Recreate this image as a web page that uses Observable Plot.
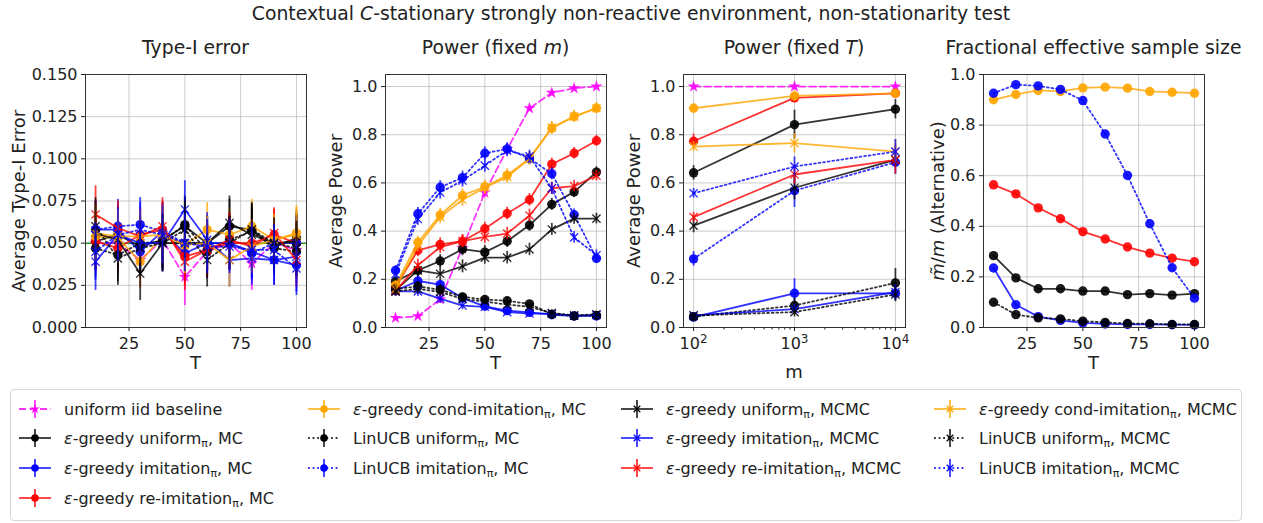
<!DOCTYPE html>
<html><head><meta charset="utf-8">
<script src="https://cdn.jsdelivr.net/npm/d3@7"></script>
<script src="https://cdn.jsdelivr.net/npm/@observablehq/plot@0.6"></script>
<style>
body{margin:0;background:#fff;font-family:"DejaVu Sans",sans-serif;color:#222;}
#root{position:relative;width:1263px;height:523px;overflow:hidden;background:#fff;}
.abs{position:absolute;white-space:nowrap;}
.ctr{transform:translate(-50%,-50%);}
.vlab{transform:translate(-50%,-50%) rotate(-90deg);}
sub{font-size:11px;vertical-align:-3px;line-height:0;}
.leg{position:absolute;left:10px;top:389px;width:1232px;height:132px;border:1px solid #d6d6d6;border-radius:4px;box-sizing:border-box;}
.item{position:absolute;display:flex;align-items:center;height:24px;font-size:16px;}
</style></head><body><div id="root"></div>
<script>
// ---------------- data ----------------
const T = [10,20,30,40,50,60,70,80,90,100];
const M = [100,1000,10000];
const alphaLevel = 0.05;

const seriesLabels = [
  "uniform iid baseline",
  "ε-greedy uniform_π, MC",
  "ε-greedy imitation_π, MC",
  "ε-greedy re-imitation_π, MC",
  "ε-greedy cond-imitation_π, MC",
  "LinUCB uniform_π, MC",
  "LinUCB imitation_π, MC",
  "ε-greedy uniform_π, MCMC",
  "ε-greedy imitation_π, MCMC",
  "ε-greedy re-imitation_π, MCMC",
  "ε-greedy cond-imitation_π, MCMC",
  "LinUCB uniform_π, MCMC",
  "LinUCB imitation_π, MCMC"
];

// Panel 1: Type-I error vs T
const typeI_base     = [0.050,0.050,0.040,0.052,0.030,0.045,0.050,0.038,0.050,0.046];
const typeI_egU_MC   = [0.051,0.055,0.048,0.052,0.060,0.050,0.060,0.058,0.048,0.053];
const typeI_egI_MC   = [0.058,0.058,0.045,0.057,0.044,0.050,0.050,0.045,0.040,0.037];
const typeI_egR_MC   = [0.051,0.047,0.055,0.058,0.042,0.046,0.050,0.050,0.055,0.050];
const typeI_egC_MC   = [0.054,0.053,0.039,0.054,0.049,0.058,0.055,0.060,0.052,0.056];
const typeI_linU_MC  = [0.047,0.043,0.050,0.051,0.061,0.045,0.052,0.057,0.047,0.045];
const typeI_linI_MC  = [0.058,0.060,0.061,0.057,0.050,0.050,0.050,0.044,0.050,0.050];
const typeI_egU_MCMC = [0.056,0.052,0.032,0.050,0.050,0.050,0.062,0.055,0.050,0.051];
const typeI_egI_MCMC = [0.039,0.055,0.050,0.050,0.070,0.052,0.040,0.041,0.040,0.042];
const typeI_egR_MCMC = [0.067,0.059,0.054,0.060,0.039,0.046,0.052,0.048,0.056,0.040];
const typeI_egC_MCMC = [0.056,0.054,0.054,0.055,0.049,0.050,0.040,0.048,0.052,0.055];
const typeI_linU_MCMC= [0.060,0.041,0.047,0.050,0.058,0.040,0.050,0.058,0.050,0.047];
const typeI_linI_MCMC= [0.045,0.055,0.058,0.055,0.050,0.048,0.048,0.046,0.046,0.035];
const typeI_err      = [0.017,0.016,0.016,0.017,0.017,0.016,0.016,0.016,0.015,0.016];

// Panel 2: power vs T (fixed m)
const powT_base      = [0.040,0.047,0.117,0.330,0.560,0.740,0.910,0.974,0.993,1.000];
const powT_egU_MC    = [0.192,0.237,0.276,0.325,0.313,0.358,0.425,0.511,0.563,0.645];
const powT_egI_MC    = [0.153,0.193,0.178,0.122,0.088,0.070,0.063,0.053,0.048,0.048];
const powT_egR_MC    = [0.168,0.320,0.345,0.358,0.410,0.473,0.530,0.678,0.723,0.775];
const powT_egC_MC    = [0.175,0.354,0.467,0.548,0.584,0.632,0.702,0.827,0.876,0.910];
const powT_linU_MC   = [0.160,0.170,0.157,0.127,0.116,0.111,0.098,0.055,0.048,0.050];
const powT_linI_MC   = [0.237,0.472,0.582,0.622,0.723,0.741,0.702,0.638,0.468,0.287];
const powT_egU_MCMC  = [0.155,0.237,0.223,0.254,0.290,0.290,0.324,0.407,0.452,0.452];
const powT_egI_MCMC  = [0.150,0.150,0.120,0.091,0.086,0.064,0.058,0.058,0.049,0.052];
const powT_egR_MCMC  = [0.152,0.258,0.334,0.358,0.376,0.390,0.465,0.578,0.587,0.630];
const powT_egC_MCMC  = [0.160,0.340,0.458,0.530,0.580,0.625,0.700,0.830,0.875,0.910];
const powT_linU_MCMC = [0.150,0.160,0.148,0.118,0.108,0.095,0.086,0.060,0.050,0.055];
const powT_linI_MCMC = [0.222,0.450,0.560,0.610,0.672,0.735,0.710,0.577,0.374,0.300];
const powT_err_base  = [0.008,0.009,0.013,0.020,0.022,0.020,0.013,0.007,0.004,0.001];
const powT_err_hi    = [0.020,0.026,0.027,0.027,0.027,0.026,0.026,0.025,0.024,0.022];
const powT_err_lo    = [0.020,0.021,0.020,0.017,0.015,0.014,0.013,0.012,0.012,0.012];

// Panel 3: power vs m (fixed T)
const powM_base      = [1.000,1.000,1.000];
const powM_egU_MC    = [0.642,0.842,0.906];
const powM_egI_MC    = [0.043,0.142,0.142];
const powM_egR_MC    = [0.773,0.953,0.972];
const powM_egC_MC    = [0.910,0.961,0.972];
const powM_linU_MC   = [0.045,0.091,0.185];
const powM_linI_MC   = [0.285,0.568,0.686];
const powM_egU_MCMC  = [0.423,0.580,0.696];
const powM_egI_MCMC  = [0.050,0.076,0.147];
const powM_egR_MCMC  = [0.458,0.635,0.696];
const powM_egC_MCMC  = [0.751,0.765,0.730];
const powM_linU_MCMC = [0.050,0.064,0.137];
const powM_linI_MCMC = [0.557,0.668,0.730];
const powM_err = [
  [0.002,0.002,0.002],[0.030,0.060,0.040],[0.012,0.060,0.030],[0.030,0.020,0.012],
  [0.020,0.020,0.012],[0.012,0.030,0.060],[0.030,0.070,0.050],[0.030,0.050,0.030],
  [0.012,0.020,0.030],[0.020,0.040,0.060],[0.020,0.040,0.050],[0.012,0.020,0.030],[0.020,0.040,0.050]
];

// Panel 4: fractional effective sample size (MC only)
const ess_egU_MC  = [0.284,0.196,0.153,0.153,0.144,0.144,0.130,0.134,0.128,0.134];
const ess_egI_MC  = [0.235,0.090,0.043,0.028,0.018,0.014,0.012,0.012,0.011,0.010];
const ess_egR_MC  = [0.564,0.528,0.473,0.430,0.379,0.350,0.318,0.294,0.274,0.260];
const ess_egC_MC  = [0.900,0.921,0.937,0.933,0.947,0.950,0.946,0.933,0.930,0.926];
const ess_linU_MC = [0.100,0.051,0.038,0.034,0.025,0.020,0.016,0.015,0.012,0.012];
const ess_linI_MC = [0.926,0.960,0.955,0.941,0.897,0.765,0.601,0.410,0.236,0.116];

const yTicks1 = [0,0.025,0.05,0.075,0.1,0.125,0.15];
const yTicksP = [0,0.2,0.4,0.6,0.8,1.0];
const xTicksT = [25,50,75,100];
const xTicksM = [100,1000,10000];
const xMinorM = [200,300,400,500,600,700,800,900,2000,3000,4000,5000,6000,7000,8000,9000];

// ---------------- styles ----------------
const MAG="#ff00ff", BLK="#000000", BLU="#0000ff", RED="#ff0000", ORG="#ffa500";
const sColor = [MAG,BLK,BLU,RED,ORG,BLK,BLU,BLK,BLU,RED,ORG,BLK,BLU];
const sDash  = ["7,3.5",null,null,null,null,"1.8,2.8","1.8,2.8",null,null,null,null,"1.8,2.8","1.8,2.8"];
const sSym   = ["star","circle","circle","circle","circle","circle","circle","times","times","times","times","times","times"];

const typeI = [typeI_base,typeI_egU_MC,typeI_egI_MC,typeI_egR_MC,typeI_egC_MC,typeI_linU_MC,typeI_linI_MC,
  typeI_egU_MCMC,typeI_egI_MCMC,typeI_egR_MCMC,typeI_egC_MCMC,typeI_linU_MCMC,typeI_linI_MCMC];
const powT = [powT_base,powT_egU_MC,powT_egI_MC,powT_egR_MC,powT_egC_MC,powT_linU_MC,powT_linI_MC,
  powT_egU_MCMC,powT_egI_MCMC,powT_egR_MCMC,powT_egC_MCMC,powT_linU_MCMC,powT_linI_MCMC];
const powTErr = [powT_err_base,powT_err_hi,powT_err_lo,powT_err_hi,powT_err_hi,powT_err_lo,powT_err_hi,
  powT_err_hi,powT_err_lo,powT_err_hi,powT_err_hi,powT_err_lo,powT_err_hi];
const powM = [powM_base,powM_egU_MC,powM_egI_MC,powM_egR_MC,powM_egC_MC,powM_linU_MC,powM_linI_MC,
  powM_egU_MCMC,powM_egI_MCMC,powM_egR_MCMC,powM_egC_MCMC,powM_linU_MCMC,powM_linI_MCMC];
const ess = [null,ess_egU_MC,ess_egI_MC,ess_egR_MC,ess_egC_MC,ess_linU_MC,ess_linI_MC];

const root = document.getElementById("root");
function addDiv(html, cls, left, top, size, extra) {
  const d = document.createElement("div");
  d.className = "abs " + cls;
  d.style.left = left + "px"; d.style.top = top + "px"; d.style.fontSize = size + "px";
  if (extra) Object.assign(d.style, extra);
  d.innerHTML = html; root.appendChild(d); return d;
}
function fmtLabel(s) {
  return s.replace("ε", "<i>ε</i>").replace("_π", "<sub>π</sub>");
}

function seriesMarks(rows, i) {
  const c = sColor[i];
  const out = [];
  out.push(Plot.line(rows, {x:"x", y:"y", stroke:c, strokeWidth:1.8, strokeOpacity:0.8,
    strokeDasharray: sDash[i] || undefined}));
  out.push(Plot.ruleX(rows, {x:"x", y1: d => d.y - d.e, y2: d => d.y + d.e, stroke:c, strokeWidth:1.8, strokeOpacity:0.75}));
  if (sSym[i] === "times")
    out.push(Plot.dot(rows, {x:"x", y:"y", symbol:"times", stroke:c, strokeWidth:1.3, r:3.8, strokeOpacity:0.85}));
  else
    out.push(Plot.dot(rows, {x:"x", y:"y", symbol:sSym[i], fill:c, r: sSym[i]==="star" ? 3.8 : 4.7, fillOpacity:0.9}));
  return out;
}

function panel(opt) {
  const marks = [
    Plot.gridX({ticks: opt.xTicks, stroke:"#b0b0b0", strokeOpacity:0.65, strokeWidth:1}),
    Plot.gridY({ticks: opt.yTicks, stroke:"#b0b0b0", strokeOpacity:0.65, strokeWidth:1})
  ];
  if (opt.ref != null) marks.push(Plot.ruleY([opt.ref], {stroke:"green", strokeWidth:1.5, strokeOpacity:0.8}));
  opt.series.forEach((vals, i) => {
    if (!vals) return;
    const rows = vals.map((v, j) => ({x: opt.xs[j], y: v, e: opt.err ? opt.err(i, j) : 0}));
    marks.push(...seriesMarks(rows, i));
  });
  marks.push(Plot.frame({stroke:"#333", strokeWidth:1}));
  marks.push(Plot.axisX({ticks: opt.xTicks, tickFormat: opt.xFmt, tickSize:4, tickPadding:6, label:null, fontSize:16}));
  if (opt.xMinor) marks.push(Plot.axisX({ticks: opt.xMinor, tickFormat: () => "", tickSize:2.5, label:null}));
  marks.push(Plot.axisY({ticks: opt.yTicks, tickFormat: opt.yFmt, tickSize:4, tickPadding:4, label:null, fontSize:16}));
  const svg = Plot.plot({
    width: opt.w + 80, height: 303,
    marginLeft: 70, marginRight: 10, marginTop: 10, marginBottom: 40,
    x: opt.xScale, y: {domain: opt.yDomain},
    style: {fontFamily: "DejaVu Sans", fontSize: "16px", color: "#222", background: "transparent", overflow: "visible"},
    marks
  });
  svg.style.position = "absolute";
  svg.style.left = (opt.left - 70) + "px";
  svg.style.top = "64px";
  root.appendChild(svg);
  return svg;
}

const fmt1 = d3.format(".1f");
const supMark = "^";
panel({left:85, w:221, xs:T, xScale:{type:"linear", domain:[5.5,104.5]}, xTicks:xTicksT, xFmt: d3.format("d"),
  yDomain:[0,0.15], yTicks:yTicks1, yFmt:d3.format(".3f"), series:typeI, ref: alphaLevel,
  err:(i,j)=>typeI_err[j]});
panel({left:385, w:221, xs:T, xScale:{type:"linear", domain:[5.5,104.5]}, xTicks:xTicksT, xFmt: d3.format("d"),
  yDomain:[0,1.05], yTicks:yTicksP, yFmt:fmt1, series:powT, err:(i,j)=>powTErr[i][j]});
const svg3 = panel({left:683, w:222, xs:M, xScale:{type:"log", domain:[Math.pow(10,1.9), Math.pow(10,4.1)]}, xTicks:xTicksM,
  xFmt: d => "10" + supMark + Math.round(Math.log10(d)), xMinor:xMinorM,
  yDomain:[0,1.05], yTicks:yTicksP, yFmt:fmt1, series:powM, err:(i,j)=>powM_err[i][j]});
// render exponent tick labels as real superscripts
d3.select(svg3).selectAll("text").each(function() {
  const t = this.textContent;
  if (t.includes(supMark)) {
    const [b, e] = t.split(supMark);
    const s = d3.select(this); s.text(null);
    s.append("tspan").text(b);
    s.append("tspan").attr("dy", "-0.45em").attr("font-size", "12px").text(e);
  }
});
panel({left:983, w:221, xs:T, xScale:{type:"linear", domain:[5.5,104.5]}, xTicks:xTicksT, xFmt: d3.format("d"),
  yDomain:[0,1.0], yTicks:yTicksP, yFmt:fmt1, series:ess, err:null});

// ---------------- text ----------------
addDiv("Contextual <i>C</i>-stationary strongly non-reactive environment, non-stationarity test", "ctr", 631, 13, 18.8);
const titles = ["Type-I error", "Power (fixed <i>m</i>)", "Power (fixed <i>T</i>)", "Fractional effective sample size"];
const centers = [195.5, 495.5, 794, 1093.5];
titles.forEach((t, k) => addDiv(t, "ctr", centers[k], 47, 18.8));
const ylabs = ["Average Type-I Error", "Average Power", "Average Power", "<i>m̃</i>/<i>m</i> (Alternative)"];
const ylx = [18, 335, 633, 937];
ylabs.forEach((t, k) => addDiv(t, "vlab", ylx[k], 201, 18));
const xlabs = ["T", "T", "m", "T"];
const xly = [362, 362, 371, 362];
xlabs.forEach((t, k) => addDiv(t, "ctr", centers[k], xly[k], 18));

// ---------------- legend ----------------
const leg = document.createElement("div"); leg.className = "leg"; root.appendChild(leg);
const cols = [[0,1,2,3],[4,5,6],[7,8,9],[10,11,12]];
const colHandleX = [7, 296, 609, 922];
const rowY = [408, 437, 467, 497];
cols.forEach((col, ci) => col.forEach((si, ri) => {
  const it = document.createElement("div"); it.className = "item";
  it.style.left = colHandleX[ci] + "px"; it.style.top = (rowY[ri] - 389 - 12) + "px";
  const svg = d3.create("svg").attr("width", 34).attr("height", 24).style("overflow","visible");
  svg.append("line").attr("x1",1).attr("x2",33).attr("y1",12).attr("y2",12)
    .attr("stroke", sColor[si]).attr("stroke-width",1.8).attr("stroke-opacity",0.8)
    .attr("stroke-dasharray", sDash[si] || null);
  svg.append("line").attr("x1",17).attr("x2",17).attr("y1",3).attr("y2",21)
    .attr("stroke", sColor[si]).attr("stroke-width",1.8).attr("stroke-opacity",0.8);
  const sym = sSym[si] === "star" ? d3.symbolStar : sSym[si] === "times" ? d3.symbolTimes : d3.symbolCircle;
  const p = svg.append("path").attr("transform","translate(17,12)")
    .attr("d", d3.symbol(sym, sSym[si]==="times" ? 30 : sSym[si]==="star" ? 30 : 45)());
  if (sSym[si] === "times") p.attr("fill","none").attr("stroke", sColor[si]).attr("stroke-width",1.3);
  else p.attr("fill", sColor[si]);
  it.appendChild(svg.node());
  const sp = document.createElement("span"); sp.style.marginLeft = "12px";
  sp.innerHTML = fmtLabel(seriesLabels[si]); it.appendChild(sp);
  leg.appendChild(it);
}));
</script></body></html>
